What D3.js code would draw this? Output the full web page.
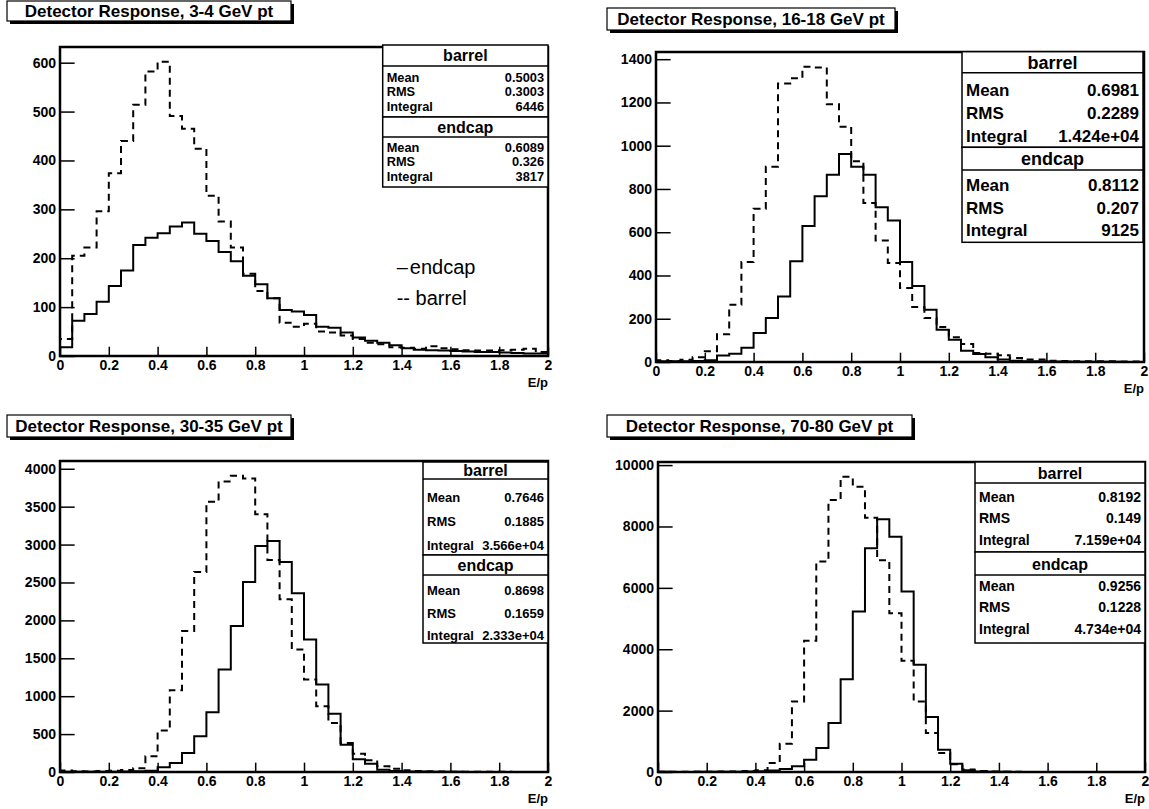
<!DOCTYPE html>
<html><head><meta charset="utf-8">
<title>Detector Response</title>
<script src="https://cdn.jsdelivr.net/npm/d3@7"></script>
<style>
  body { margin: 0; background: #fff; }
  text { font-family: "Liberation Sans", Arial, Helvetica, sans-serif; font-weight: bold; fill: #000; }
</style>
</head>
<body>
<svg id="chart" width="1149" height="809"></svg>
<script>
// ---- data (40 bins of 0.05 in E/p, 0..2) ----
const binWidth = 0.05;
const xTicks = [0, 0.2, 0.4, 0.6, 0.8, 1, 1.2, 1.4, 1.6, 1.8, 2];

const titles = [
  "Detector Response, 3-4 GeV pt",
  "Detector Response, 16-18 GeV pt",
  "Detector Response, 30-35 GeV pt",
  "Detector Response, 70-80 GeV pt"
];

const p1Barrel = [35,205,222,296,374,440,514,582,602,491,465,424,328,275,222,168,133,118,68,60,
                  66,50,48,42,35,27,24,18,17,15,20,16,14,12,11,11,12,13,15,8];
const p1Endcap = [18,72,86,111,143,175,227,242,251,265,273,250,235,213,194,164,147,118,94,91,
                  84,60,58,48,38,31,27,22,16,13,12,11,10,9,8,8,7,6,5,5];

const p2Barrel = [8,5,10,22,50,128,265,462,708,903,1288,1312,1365,1362,1192,1088,928,735,562,458,
                  342,254,203,162,114,83,42,38,31,18,11,11,6,5,4,3,3,3,2,2];
const p2Endcap = [3,4,3,5,8,30,38,66,134,203,303,466,629,766,866,962,903,866,715,654,
                  462,351,242,149,103,52,37,22,11,6,4,3,2,2,1,1,1,1,0,0];

const p3Barrel = [20,10,8,12,15,25,50,207,546,1079,1859,2639,3564,3833,3907,3872,3401,2797,2278,1617,
                  1220,868,648,383,242,154,75,44,22,13,10,5,4,3,3,2,2,1,1,0];
const p3Endcap = [2,2,3,3,4,6,10,18,62,119,251,471,788,1352,1925,2507,2982,3048,2771,2357,
                  1749,1154,767,361,167,110,31,13,8,5,3,2,2,1,1,1,1,0,0,0];

const p4Barrel = [10,5,5,5,10,15,20,30,60,293,922,2300,4273,6855,8860,9620,9295,8286,6900,5173,
                  3623,2300,1269,618,250,80,30,15,8,5,3,2,2,1,1,1,0,0,0,0];
const p4Endcap = [5,3,3,5,8,10,12,15,25,45,100,185,400,780,1594,3026,5228,7289,8232,7668,
                  5879,3492,1790,727,271,54,20,10,5,3,2,1,1,1,0,0,0,0,0,0];

const statNames = ["Mean", "RMS", "Integral"];
const p1BarrelStats = ["0.5003", "0.3003", "6446"];
const p1EndcapStats = ["0.6089", "0.326", "3817"];
const p2BarrelStats = ["0.6981", "0.2289", "1.424e+04"];
const p2EndcapStats = ["0.8112", "0.207", "9125"];
const p3BarrelStats = ["0.7646", "0.1885", "3.566e+04"];
const p3EndcapStats = ["0.8698", "0.1659", "2.333e+04"];
const p4BarrelStats = ["0.8192", "0.149", "7.159e+04"];
const p4EndcapStats = ["0.9256", "0.1228", "4.734e+04"];

const yMajor = [100, 200, 500, 2000];
const yMinor = [20, 40, 100, 500];

// ---- layout (pixels) ----
const layout = [
  { x0: 60, x1: 548, y0: 47, y1: 356,
    tbox: { x: 7, y: 1, w: 284, h: 20 },
    sx0: 382.7, sx1: 548, fsHead: 16, fsRow: 12.8,
    bBox: { top: 45, line: 66, bottom: 117, head: 55.5, rows: [77.5, 92, 106.5] },
    eBox: { top: 117, line: 137, bottom: 187, head: 127.5, rows: [147.5, 162, 176.5] } },
  { x0: 656, x1: 1144, y0: 52, y1: 362,
    tbox: { x: 607, y: 8, w: 288, h: 22 },
    sx0: 962, sx1: 1143, fsHead: 18, fsRow: 17,
    bBox: { top: 51.7, line: 72.7, bottom: 147.3, head: 62.5, rows: [90, 113, 136.5] },
    eBox: { top: 147.3, line: 170, bottom: 242.3, head: 158.5, rows: [185, 208, 230] } },
  { x0: 60, x1: 548, y0: 461, y1: 772,
    tbox: { x: 7, y: 415, w: 284, h: 22 },
    sx0: 423, sx1: 548, fsHead: 16, fsRow: 13,
    bBox: { top: 462, line: 479, bottom: 555, head: 470.5, rows: [497, 521, 545] },
    eBox: { top: 555, line: 575, bottom: 643, head: 565, rows: [590, 613, 635] } },
  { x0: 658, x1: 1145, y0: 462, y1: 772,
    tbox: { x: 607, y: 415, w: 305, h: 22 },
    sx0: 975, sx1: 1145, fsHead: 16, fsRow: 14,
    bBox: { top: 462, line: 483, bottom: 552, head: 473, rows: [497, 518, 540] },
    eBox: { top: 552, line: 575, bottom: 643, head: 564, rows: [586, 607, 629] } }
];

const panels = [
  { barrel: p1Barrel, endcap: p1Endcap, bs: p1BarrelStats, es: p1EndcapStats },
  { barrel: p2Barrel, endcap: p2Endcap, bs: p2BarrelStats, es: p2EndcapStats },
  { barrel: p3Barrel, endcap: p3Endcap, bs: p3BarrelStats, es: p3EndcapStats },
  { barrel: p4Barrel, endcap: p4Endcap, bs: p4BarrelStats, es: p4EndcapStats }
];

const svg = d3.select("#chart");

function statBox(g, L, box, name, vals) {
  g.append("rect").attr("x", L.sx0).attr("y", box.top)
    .attr("width", L.sx1 - L.sx0).attr("height", box.bottom - box.top)
    .attr("fill", "#fff").attr("stroke", "#000").attr("stroke-width", 1.5);
  g.append("line").attr("x1", L.sx0).attr("x2", L.sx1)
    .attr("y1", box.line).attr("y2", box.line)
    .attr("stroke", "#000").attr("stroke-width", 1.5);
  g.append("text").attr("x", (L.sx0 + L.sx1) / 2).attr("y", box.head)
    .attr("dy", "0.35em").attr("text-anchor", "middle")
    .style("font-size", L.fsHead + "px").text(name);
  statNames.forEach(function(s, i) {
    g.append("text").attr("x", L.sx0 + 4).attr("y", box.rows[i]).attr("dy", "0.35em")
      .style("font-size", L.fsRow + "px").text(s);
    g.append("text").attr("x", L.sx1 - 4).attr("y", box.rows[i]).attr("dy", "0.35em")
      .attr("text-anchor", "end").style("font-size", L.fsRow + "px").text(vals[i]);
  });
}

function drawPanel(k) {
  const L = layout[k], d = panels[k];
  const x = d3.scaleLinear().domain([0, 2]).range([L.x0, L.x1]);
  const ymax = 1.05 * d3.max(d.barrel.concat(d.endcap));
  const y = d3.scaleLinear().domain([0, ymax]).range([L.y1, L.y0]);
  const g = svg.append("g");

  // title box with shadow
  const t = L.tbox;
  g.append("rect").attr("x", t.x + 3).attr("y", t.y + 3).attr("width", t.w).attr("height", t.h).attr("fill", "#000");
  g.append("rect").attr("x", t.x).attr("y", t.y).attr("width", t.w).attr("height", t.h)
    .attr("fill", "#fff").attr("stroke", "#000").attr("stroke-width", 1.2);
  g.append("text").attr("x", t.x + t.w / 2).attr("y", t.y + t.h / 2).attr("dy", "0.35em")
    .attr("text-anchor", "middle").style("font-size", "17px").text(titles[k]);

  svg.append("clipPath").attr("id", "clip" + k).append("rect")
    .attr("x", L.x0).attr("y", L.y0).attr("width", L.x1 - L.x0).attr("height", L.y1 - L.y0);

  const pts = function(v) {
    const a = [[0, 0]];
    v.forEach(function(c, i) { a.push([i * binWidth, c]); });
    a.push([2, v[v.length - 1]]);
    a.push([2, 0]);
    return a;
  };
  const line = d3.line().x(p => x(p[0])).y(p => y(p[1])).curve(d3.curveStepAfter);

  const hg = g.append("g").attr("clip-path", "url(#clip" + k + ")");
  hg.append("path").attr("d", line(pts(d.endcap)))
    .attr("fill", "none").attr("stroke", "#000").attr("stroke-width", 2);
  hg.append("path").attr("d", line(pts(d.barrel)))
    .attr("fill", "none").attr("stroke", "#000").attr("stroke-width", 2)
    .attr("stroke-dasharray", "7,5");

  // axes, ticks inward
  const tickLenX = 0.03 * (L.y1 - L.y0), tickLenY = 0.03 * (L.x1 - L.x0);
  const xa = g.append("g").attr("transform", "translate(0," + L.y1 + ")");
  xa.call(d3.axisBottom(x).tickValues(d3.range(0, 2.0001, 0.05)).tickSize(-tickLenX / 2).tickFormat(""));
  xa.call(d3.axisBottom(x).tickValues(xTicks).tickSize(-tickLenX).tickPadding(4)
    .tickFormat(d3.format("~g")));
  const ya = g.append("g").attr("transform", "translate(" + L.x0 + ",0)");
  ya.call(d3.axisLeft(y).tickValues(d3.range(0, ymax, yMinor[k])).tickSize(-tickLenY / 2).tickFormat(""));
  ya.call(d3.axisLeft(y).tickValues(d3.range(0, ymax, yMajor[k])).tickSize(-tickLenY).tickPadding(4)
    .tickFormat(d3.format("d")));
  g.selectAll(".domain").remove();
  g.selectAll(".tick line").attr("stroke", "#000").attr("stroke-width", 1.5);
  g.selectAll(".tick text").style("font-size", "14px").style("font-family", "'Liberation Sans', Arial, sans-serif")
    .style("font-weight", "bold").attr("fill", "#000");

  // frame
  g.append("rect").attr("x", L.x0).attr("y", L.y0).attr("width", L.x1 - L.x0).attr("height", L.y1 - L.y0)
    .attr("fill", "none").attr("stroke", "#000").attr("stroke-width", 2.5);

  g.append("text").attr("x", L.x1).attr("y", L.y1 + 26).attr("dy", "0.35em")
    .attr("text-anchor", "end").style("font-size", "13px").text("E/p");

  statBox(g, L, L.bBox, "barrel", d.bs);
  statBox(g, L, L.eBox, "endcap", d.es);
}

[0, 1, 2, 3].forEach(drawPanel);

// legend text in first panel
const leg1 = svg.append("text").attr("x", 396.7).attr("y", 267).attr("dy", "0.35em")
  .style("font-weight", "normal").style("font-size", "20px");
leg1.append("tspan").text("\u2013");
leg1.append("tspan").attr("dx", 2).text("endcap");
svg.append("text").attr("x", 396.7).attr("y", 298).attr("dy", "0.35em")
  .style("font-weight", "normal").style("font-size", "20px").text("-- barrel");
</script>
</body></html>
